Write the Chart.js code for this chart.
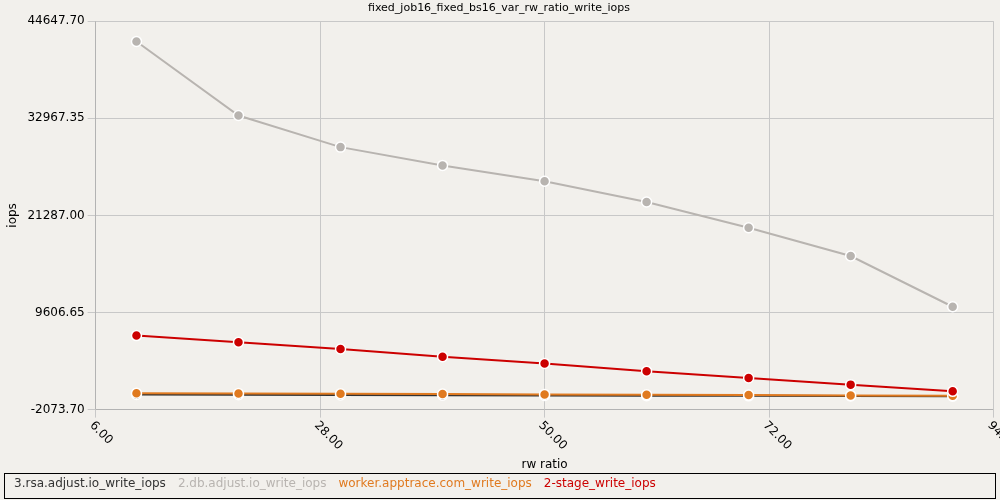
<!DOCTYPE html><html><head><script src="https://cdn.jsdelivr.net/npm/chart.js@4"></script>
<style>body{margin:0;background:#f2f0ec}#w{width:1000px;height:500px}</style></head><body><div id="w"><canvas id="c"></canvas></div>
<script>
const xs=[10,20,30,40,50,60,70,80,90];
const rsa=[-250,-280,-310,-340,-370,-400,-420,-440,-470];
const db=[42200,33300,29500,27300,25400,22900,19800,16400,10300];
const worker=[-100,-130,-170,-210,-250,-290,-330,-370,-410];
const stage=[6830,6020,5210,4280,3480,2550,1740,930,120];
const yTicks=[-2073.70,9606.65,21287.00,32967.35,44647.70];
const xTicks=[6,28,50,72,94];
const F='DejaVu Sans';
const mk=(l,d,c,o)=>({label:l,order:o,data:xs.map((x,i)=>({x,y:d[i]})),borderColor:c,backgroundColor:c,pointBorderColor:'#fff',pointBorderWidth:1.5,pointRadius:5,borderWidth:2});
const plug={id:'bx',afterDraw(ch){const l=ch.legend;const g=ch.ctx;g.save();g.strokeStyle='#000';g.lineWidth=1;g.strokeRect(4.5,l.top+1.5,991,l.height-3);
const s=ch.scales.x;g.fillStyle='#000';g.font='12px '+F;g.textAlign='left';g.textBaseline='middle';
xTicks.forEach(v=>{const px=s.getPixelForValue(v);g.save();g.translate(px-4,s.top+14);g.rotate(Math.PI/4);g.fillText(v.toFixed(2),0,0);g.restore();});
g.restore();}};
new Chart(document.getElementById('c'),{type:'line',data:{datasets:[mk('3.rsa.adjust.io_write_iops',rsa,'#333333',4),mk('2.db.adjust.io_write_iops',db,'#b8b4b0',3),mk('worker.apptrace.com_write_iops',worker,'#e07a20',2),mk('2-stage_write_iops',stage,'#cc0000',1)]},
options:{animation:false,responsive:true,maintainAspectRatio:false,layout:{padding:{right:4,left:2}},
plugins:{title:{display:true,text:'fixed_job16_fixed_bs16_var_rw_ratio_write_iops',color:'#000',font:{size:11,weight:'normal',family:F},padding:{top:2,bottom:6}},
legend:{position:'bottom',align:'start',labels:{boxWidth:0,boxHeight:0,padding:6,font:{size:12,family:F},generateLabels(ch){return ch.data.datasets.map((d,i)=>({text:d.label,fontColor:d.borderColor,fillStyle:'transparent',strokeStyle:'transparent',lineWidth:0,datasetIndex:i}));}}}},
scales:{x:{type:'linear',min:6,max:94,afterBuildTicks(a){a.ticks=xTicks.map(v=>({value:v}));},ticks:{display:false},grid:{color:'#c8c8c8'},title:{display:true,text:'rw ratio',color:'#000',padding:{top:40,bottom:0},font:{size:12,family:F}}},
y:{min:-2073.7,max:44647.7,afterBuildTicks(a){a.ticks=yTicks.map(v=>({value:v}));},ticks:{color:'#000',callback:v=>v.toFixed(2),font:{size:12,family:F}},grid:{color:'#c8c8c8'},title:{display:true,text:'iops',color:'#000',font:{size:12,family:F}}}}},plugins:[plug]});
</script></body></html>
